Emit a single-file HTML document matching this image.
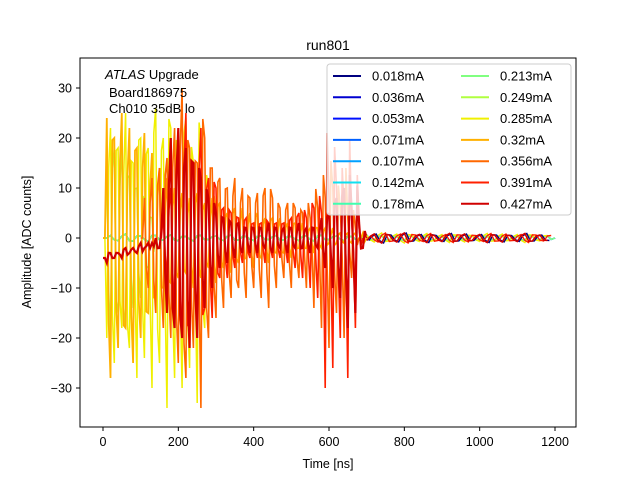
<!DOCTYPE html>
<html><head><meta charset="utf-8"><style>
body{margin:0;background:#fff}
svg{display:block;font-family:"Liberation Sans","DejaVu Sans",sans-serif}
</style></head><body>
<svg id="chart" width="640" height="480" viewBox="0 0 640 480">
<rect width="640" height="480" fill="#fff"/>
<text x="328" y="50" font-size="14" text-anchor="middle">run801</text>
<defs><clipPath id="pc"><rect x="80" y="58" width="496" height="369"/></clipPath></defs>
<g id="series" clip-path="url(#pc)"></g>
<rect x="80" y="58" width="496" height="369" fill="none" stroke="#000" stroke-width="1"/>
<g id="axes"></g>
<text x="328" y="468" font-size="12.5" text-anchor="middle">Time [ns]</text>
<text transform="translate(31,242) rotate(-90)" font-size="12.5" text-anchor="middle">Amplitude [ADC counts]</text>
<g font-size="13">
<text x="105" y="79"><tspan font-style="italic">ATLAS</tspan> Upgrade</text>
<text x="109" y="97">Board186975</text>
<text x="109" y="113">Ch010 35dB lo</text>
</g>
<g id="legend"></g>
</svg>
<script>
const xTicks=[0,200,400,600,800,1000,1200];
const yTicks=[-30,-20,-10,0,10,20,30];
const labels=["0.018mA","0.036mA","0.053mA","0.071mA","0.107mA","0.142mA","0.178mA","0.213mA","0.249mA","0.285mA","0.32mA","0.356mA","0.391mA","0.427mA"];
const colors=["#000080","#0000d0","#0010ff","#0060ff","#00a0ff","#10e0f0","#40ffb0","#80ff80","#b0ff40","#f0f000","#ffb000","#ff6800","#ff2000","#d00000"];
const lowNoise=[0,0.5,-0.5,0.8,-0.6,0.4,-0.7,0.5,-0.4,0.6,-0.5,0.3,-0.6,0.5,-0.3,0.4,-0.5,0.6,-0.4,0.3,-0.5,0.4,-0.3,0.5,-0.4,0.3,-0.5,0.4,-0.6,0.5,-0.3,0.4,-0.5,0.3,-0.4,0.6,-0.3,0.5,-0.4,0.3,-0.5,0.4,-0.3,0.5,-0.4,0.3,-0.5,0.4,-0.3,0.5,-0.4,0.3,-0.5,0.4,-0.3,0.5,-0.4,0.3,-0.5,0.4,0];
const tailNoise=[0.5,-0.8,1,-0.6,0.8,-1,0.6,-0.7,0.9,-0.5,0.7,-0.9,0.6,-0.8,0.5,-0.7,0.9,-0.6,0.8,-0.5,0.7,-0.9,0.6,-0.6,0.5];
const v249=[0,15,-20,18,-15,20,-18,12,-14,10,-12,8,-6,4,0];
const v285=[0,-20,22,-25,18,-18,25,-22,15,-28,20,-24,18,-30,26,-25,20,-34,22,-28,18,-30,24,-26,15,-33,20,-18,10,-12,5];
const v320=[0,24,-28,20,-22,25,-18,22,-25,18,-20,21,-15,17,-12,14,-10,12,-9,10,-8,9,-7,8,-10,9,-8,7,-6,8,-9,7,-6,5,-7,6,-5,6,-4,5,-6,5,-4,4,-5,4,-3,4,-3,3,-4,3,-2,3,-2,2,-3,2,-2,2,-1,2,-1,1,-1,1,-1,1,0,1,0];
const v356=[0,8,-10,12,-15,14,-18,16,-20,22,-25,30,-28,18,-22,15,-34,20,-20,14,-16,12,-14,10,-12,12,-10,10,-12,8,-10,9,-12,10,-14,8,-10,6,-8,7,-10,6,-8,5,-10,4,-14,6,-18,8,-22,10,-15,6,-20,4,-8,2,0];
const v391=[0,5,-8,10,-15,18,-20,25,-18,15,-20,22,-14,12,-16,10,-8,6,-8,5,-6,4,-5,4,-4,3,-4,3,-5,3,-4,3,-4,3,-5,4,-6,5,-8,4,-10,6,-12,5,-30,8,-26,10,-20,6,-28,4,-18,2,0];
const v427=[-4,-5,-3,-4,-3,-4,-2,-3,-2,-3,-1,-2,-1,-1,0,-2,10,-15,20,-18,22,-20,18,-22,15,-20,12,-14,8,-10,5,-6,4,-5,3,-4,3,-3,2,-3,2,-3,2,-2,3,-3,2,-2,2,-3,2,-2,3,-2,2,-3,2,-2,4,-6,5,-10,8,-12,10,-18,6,-15,3,-2,0];

const X=t=>103+(t/1200)*452;
const Y=v=>238-v*5;
const NS="http://www.w3.org/2000/svg";
const sg=document.getElementById('series');
function line(vals,t0,dt,color,name,sw,base){
  const pts=[];
  vals.forEach((v,i)=>{
    const t=t0+i*dt;
    pts.push(X(t).toFixed(1)+','+Y(v).toFixed(1));
    if(i<vals.length-1){
      const b=base?base(t):0;
      pts.push(X(t+dt/2).toFixed(1)+','+Y(b-(v-b)*0.7).toFixed(1));
    }
  });
  const p=document.createElementNS(NS,'polyline');
  p.setAttribute('points',pts.join(' '));
  p.setAttribute('fill','none');p.setAttribute('stroke',color);p.setAttribute('stroke-width',sw);
  
  
  sg.appendChild(p);
}
for(let k=0;k<8;k++){line(lowNoise,0,20,colors[k],'series-'+labels[k],1.4);}
line(v249,0,10,colors[8],'series-0.249mA',1.5);
line(v285,0,10,colors[9],'series-0.285mA',1.5);
line(v320,0,10,colors[10],'series-0.32mA',1.8);
line(v356,100,10,colors[11],'series-0.356mA',1.6);
line(v391,150,10,colors[12],'series-0.391mA',1.6);
line(v427,0,10,colors[13],'series-0.427mA',2.2,t=>t<150?-4+t/50:0);
line(tailNoise,700,20,colors[9],'tail-0.285mA',1.4);
line(tailNoise.map(v=>-v),705,20,colors[0],'tail-0.018mA',1.4);
line(tailNoise,710,20,colors[12],'tail-0.391mA',1.4);
line(tailNoise.map(v=>-v),700,20,colors[13],'tail-0.427mA',1.6);

const ax=document.getElementById('axes');
xTicks.forEach(t=>{
  const g=document.createElementNS(NS,'g');
  
  
  g.innerHTML=`<line x1="${X(t)}" x2="${X(t)}" y1="427" y2="431" stroke="#000"/><text x="${X(t)}" y="446" font-size="12.5" text-anchor="middle">${t}</text>`;
  ax.appendChild(g);
});
yTicks.forEach(v=>{
  const g=document.createElementNS(NS,'g');
  
  
  g.innerHTML=`<line x1="76" x2="80" y1="${Y(v)}" y2="${Y(v)}" stroke="#000"/><text x="72" y="${Y(v)+4.5}" font-size="12.5" text-anchor="end">${v<0?'\u2212'+(-v):v}</text>`;
  ax.appendChild(g);
});
const lg=document.getElementById('legend');
lg.innerHTML='<rect x="327" y="64" width="244" height="151" rx="3" fill="#fff" fill-opacity="0.8" stroke="#ccc"/>';
labels.forEach((l,i)=>{
  const col=i<7?0:1,row=i%7;
  const x=col?461:333,y=76+row*21.3;
  const g=document.createElementNS(NS,'g');
  
  
  g.innerHTML=`<line x1="${x}" x2="${x+28}" y1="${y}" y2="${y}" stroke="${colors[i]}" stroke-width="2"/><text x="${x+39}" y="${y+4.5}" font-size="13">${l}</text>`;
  lg.appendChild(g);
});
</script>
</body></html>
